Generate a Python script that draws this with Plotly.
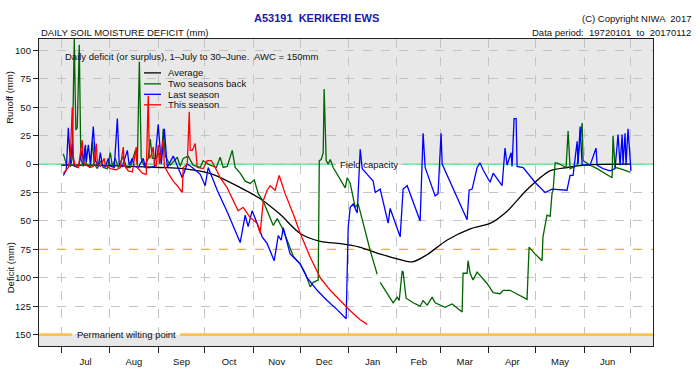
import plotly.graph_objects as go

# ---------------- data (day of season from 1 July, signed mm: + runoff, - deficit) -------------
month_labels = ["Jul", "Aug", "Sep", "Oct", "Nov", "Dec", "Jan", "Feb", "Mar", "Apr", "May", "Jun"]
month_lengths = [31, 31, 30, 31, 30, 31, 31, 28, 31, 30, 31, 30]
ytick_vals = [100, 75, 50, 25, 0, -25, -50, -75, -100, -125, -150]
series_names = ["Average", "Two seasons back", "Last season", "This season"]
series_colors = ["#000000", "#006400", "#0000ff", "#ff0000"]

avg_day = [0, 20, 44, 63, 78, 97, 115, 127, 140, 153, 166, 179, 191, 204, 217, 225, 234, 247, 262, 275, 286, 298, 313, 324, 339, 365]
avg_val = [-1, -1, -2, -3, -4, -9, -21, -30, -44, -61, -68, -70, -73, -79, -84, -86, -80, -67, -57, -52, -41, -23, -6, -3, -0.5, 0]

this_day = [1.3, 3.2, 4.5, 5.8, 7.0, 7.7, 9.0, 10.9, 13.4, 14.1, 16.0, 18.6, 20.5, 22.4, 23.1, 25.0, 27.5, 28.2,
            31.4, 35.2, 37.8, 39.7, 40.3, 42.9, 45.5, 48.0, 48.7, 51.9, 54.4, 55.7, 56.4, 57.6, 58.9, 59.6, 60.8,
            62.1, 62.8, 65.3, 66.0, 68.5, 71.7, 74.9, 77.5, 78.1, 80.7, 82.0, 82.6, 83.9, 85.8, 87.1, 90.9, 93.5,
            96.1, 98.6, 101.8, 106.3, 110.1, 113.3, 116.5, 121.0, 125.5, 127.4, 129.4, 131.9, 133.8, 137.0, 139.6,
            143.4, 148.6, 153.1, 159.5, 165.9, 172.3, 178.7, 185.1, 191.5, 196.0]
this_val = [-8, -5, -3, 8, 50, 5, -2, -3, 21, 2, -1, -3, -2, 18, 0, -2, 5, -1,
            -4, -5, -3, 15, -1, -6, -7, 15, -3, -8, -9, 60, 5, 8, 15, 0, -2,
            17, 0, 22, -2, -8, -15, -20, -25, -3, 0, 46, 12, 12, 18, -3, -4, 3,
            3, -3, -12, -21, -32, -41, -38, -47, -52, -61, -32, -23, -19, -23, -10,
            -26, -44, -61, -82, -100, -111, -120, -129, -137, -141]

last_day = [1.3, 3.2, 4.5, 5.8, 7.0, 8.3, 10.9, 13.4, 14.1, 15.4, 16.0, 17.3, 18.6, 20.5, 21.8, 23.7, 25.0, 26.3,
            28.2, 30.1, 31.4, 33.9, 35.9, 37.1, 39.1, 42.3, 43.5, 45.5, 46.7, 49.3, 52.5, 53.8, 57.0, 59.6, 62.1,
            64.0, 66.0, 67.9, 71.7, 74.3, 77.5, 80.7, 83.9, 89.0, 92.2, 94.1, 99.9, 106.9, 114.6, 117.8, 119.7,
            122.3, 125.5, 128.7, 131.9, 136.4, 139.0, 140.9, 142.2, 146.6, 153.1, 157.5, 163.9, 170.3, 176.7,
            182.5, 183.8, 185.1, 187.0, 189.6, 191.5, 192.8, 196.0, 199.8, 201.1, 204.3, 209.4, 210.7, 217.1,
            219.0, 221.6, 229.9, 231.8, 233.1, 239.5, 241.4, 243.3, 244.0, 260.0, 261.3, 263.2, 266.4, 268.3,
            270.2, 274.7, 276.7, 282.4, 284.3, 285.6, 288.2, 288.8, 290.1, 291.4, 292.0, 295.9, 303.5, 309.9,
            314.4, 324.0, 326.0, 327.9, 330.5, 331.1, 332.4, 333.7, 338.8, 342.6, 343.3, 347.1, 351.6, 354.8,
            356.7, 358.0, 359.3, 359.9, 361.2, 361.8, 363.1, 365.0]
last_val = [-10, -5, 32, 0, 18, -2, -3, 12, 0, 17, 2, 17, 0, 33, 3, -2, 10, -1,
            -2, 5, -2, -3, 40, 0, -2, 12, -1, 5, -2, -3, 5, -3, -3, -2, 35,
            0, 31, -3, 7, -1, -12, 0, -3, -9, -19, -3, -23, -44, -69, -45, -55,
            -41, -52, -64, -70, -85, -63, -67, -56, -79, -88, -100, -111, -120, -128,
            -136, -56, -38, -35, -43, 13, -4, -9, -15, -25, -22, -52, -39, -64,
            -22, -19, -50, 27, -3, -28, -26, 27, 0, -49, -23, -22, -3, 1,
            -5, -16, -8, -19, 14, -1, 10, -2, 40, 40, -2, -3, -16, -25,
            -22, -23, -10, -10, 20, 0, 33, -1, -1, 14, -1, -4, -6, -4,
            26, -1, 26, 0, 27, -1, 31, -6]

two_day = [1.3, 3.2, 5.8, 7.0, 8.3, 9.3, 10.2, 11.5, 12.5, 14.1, 15.4, 16.0, 18.6, 19.9, 21.1, 23.1, 25.0, 26.9,
           29.5, 31.4, 32.7, 34.6, 36.5, 39.7, 41.6, 44.2, 47.4, 48.7, 50.0, 51.2, 53.2, 55.7, 57.0, 58.3, 60.8,
           62.1, 64.0, 65.3, 66.6, 69.8, 74.3, 76.2, 78.1, 81.3, 84.5, 89.0, 90.9, 95.4, 99.3, 101.8, 103.7,
           106.3, 109.5, 111.4, 114.6, 117.8, 121.0, 123.6, 126.2, 129.4, 131.9, 135.8, 138.3, 141.5, 144.7,
           148.6, 153.1, 156.3, 159.5, 161.4, 164.6, 165.3, 166.5, 167.8, 168.4, 169.7, 171.0, 172.3, 174.2,
           178.7, 181.9, 183.2, 185.1, 188.3, 190.2, 193.4, 197.9, 202.4, 203.3, 204.3, 208.8, 212.6, 215.2,
           216.5, 218.4, 219.0, 220.9, 225.4, 229.9, 231.8, 234.4, 237.6, 239.5, 245.9, 250.4, 256.8, 257.4,
           260.0, 260.6, 261.9, 263.8, 266.4, 272.8, 276.7, 281.1, 283.1, 287.5, 292.0, 298.4, 299.7, 303.5,
           308.0, 308.6, 311.2, 313.2, 314.4, 315.1, 316.4, 317.6, 320.8, 323.4, 324.7, 326.0, 330.5, 333.7,
           334.3, 338.8, 343.3, 348.4, 352.9, 353.5, 354.8, 358.0, 364.4]
two_val = [9, 0, -2, 5, 110, 30, 32, 105, 5, -2, 15, 0, -3, 20, 0, -4, 3, -3,
           -4, 10, -2, 5, -3, 7, -3, -3, 12, 0, 90, 5, -2, 5, 22, 5, 5,
           12, 2, 31, 7, -1, 6, -2, 5, 7, -1, -3, 3, -1, -3, 6, -3,
           -2, 12, -3, -8, -15, -17, -14, -26, -33, -41, -54, -48, -56, -67,
           -81, -88, -96, -108, -104, -102, 3, 4, 10, 66, 3, 0, 4, -3,
           -13, -21, -12, -17, -38, -35, -52, -76, -97, None, -104, -114, -122, -117,
           -120, -94, -95, -118, -122, -125, -120, -124, -117, -122, -126, -123, -130, -96,
           -96, -85, -96, -102, -95, -105, -113, -114, -111, -111, -114, -119, -73, -79,
           -85, -64, -45, -46, -26, -23, 1, 1, -1, -3, 29, -4, -1, 36,
           3, -1, -4, -8, -12, 25, -3, -4, -7]

# ---------------- derived axis positions -------------
bounds = [0]
for m in month_lengths:
    bounds.append(bounds[-1] + m)
mids = [(bounds[i] + bounds[i + 1]) / 2 for i in range(12)]
XMIN, XMAX = -14.3, 379.1
YMIN, YMAX = -160, 110

FONT = "Liberation Sans, Arial, sans-serif"
fs = 9.5

fig = go.Figure()
all_series = [(avg_day, avg_val), (two_day, two_val), (last_day, last_val), (this_day, this_val)]
for (xd, yv), name, col in zip(all_series, series_names, series_colors):
    fig.add_trace(go.Scatter(
        x=xd, y=yv, mode="lines", name=name,
        line=dict(color=col, width=1.3, shape="spline" if name == "Average" else "linear", smoothing=0.8),
        connectgaps=False, showlegend=False, hoverinfo="skip"))

shapes = []
shapes.append(dict(type="rect", xref="paper", x0=0, x1=1, yref="y", y0=0, y1=YMAX,
                   fillcolor="#e8e8e8", line=dict(width=0), layer="below"))
shapes.append(dict(type="rect", xref="paper", x0=0, x1=1, yref="y", y0=YMIN, y1=-150,
                   fillcolor="#e8e8e8", line=dict(width=0), layer="between"))
shapes.append(dict(type="line", xref="x", yref="y", x0=XMIN, x1=175.5, y0=0, y1=0,
                   line=dict(color="#4aea8c", width=1.3), layer="between"))
shapes.append(dict(type="line", xref="x", yref="y", x0=219, x1=XMAX, y0=0, y1=0,
                   line=dict(color="#4aea8c", width=1.3), layer="between"))
shapes.append(dict(type="line", xref="x", yref="y", x0=XMIN, x1=XMAX, y0=-75, y1=-75,
                   line=dict(color="#f8ac2c", width=1.2, dash="dash"), layer="between"))
shapes.append(dict(type="line", xref="x", yref="y", x0=XMIN, x1=7, y0=-150, y1=-150,
                   line=dict(color="#ffc04d", width=2.6), layer="between"))
shapes.append(dict(type="line", xref="x", yref="y", x0=76, x1=XMAX, y0=-150, y1=-150,
                   line=dict(color="#ffc04d", width=2.6), layer="between"))

W, H, L, B = 614.0, 308.0, 39.0, 346.0
def px(x):
    return (x - L) / W
def py(y):
    return (B - y) / H

leg_rows = [72, 83, 93.5, 104]
annotations = []
for name, col, ry in zip(series_names, series_colors, leg_rows):
    shapes.append(dict(type="line", xref="paper", yref="paper", x0=px(144), x1=px(161), y0=py(ry), y1=py(ry),
                       line=dict(color=col, width=1.3)))
    annotations.append(dict(x=px(166), y=py(ry), xref="paper", yref="paper", text=name, showarrow=False,
                            xanchor="left", yanchor="middle", font=dict(size=fs, color="#111")))

annotations += [
    dict(x=px(316), y=py(17), xref="paper", yref="paper", text="<b>A53191  KERIKERI EWS</b>", showarrow=False,
         xanchor="center", yanchor="middle", font=dict(size=11, color="#1a1aa6")),
    dict(x=0, y=py(31), xref="paper", yref="paper", text="DAILY SOIL MOISTURE DEFICIT (mm)", showarrow=False,
         xanchor="left", yanchor="middle", font=dict(size=fs, color="#111")),
    dict(x=px(693), y=py(17), xref="paper", yref="paper", text="(C) Copyright NIWA  2017", showarrow=False,
         xanchor="right", yanchor="middle", font=dict(size=fs, color="#111")),
    dict(x=px(693), y=py(31), xref="paper", yref="paper", text="Data period:  19720101  to  20170112",
         showarrow=False, xanchor="right", yanchor="middle", font=dict(size=fs, color="#111")),
    dict(x=px(10), y=py(97), xref="paper", yref="paper", text="Runoff (mm)", showarrow=False, textangle=-90,
         xanchor="center", yanchor="middle", font=dict(size=fs, color="#111")),
    dict(x=px(10), y=py(268), xref="paper", yref="paper", text="Deficit (mm)", showarrow=False, textangle=-90,
         xanchor="center", yanchor="middle", font=dict(size=fs, color="#111")),
    dict(x=px(63), y=py(56), xref="paper", yref="paper",
         text="Daily deficit (or surplus), 1\u2013July to 30\u2013June.  AWC = 150mm", showarrow=False,
         xanchor="left", yanchor="middle", font=dict(size=fs, color="#111")),
    dict(x=197, y=0, xref="x", yref="y", text="Field capacity", showarrow=False,
         xanchor="center", yanchor="middle", font=dict(size=fs, color="#111")),
    dict(x=41.5, y=-150, xref="x", yref="y", text="Permanent wilting point", showarrow=False,
         xanchor="center", yanchor="middle", font=dict(size=fs, color="#111")),
]

fig.update_layout(
    width=700, height=385,
    margin=dict(l=39, r=47, t=39, b=39),
    paper_bgcolor="white", plot_bgcolor="white",
    font=dict(family=FONT, size=fs, color="#111"),
    showlegend=False,
    shapes=shapes, annotations=annotations,
)
fig.update_xaxes(
    range=[XMIN, XMAX], tickmode="array", tickvals=mids, ticktext=month_labels,
    ticks="", showgrid=False, zeroline=False, ticklabelstandoff=6,
    showline=True, mirror=True, linecolor="#222", linewidth=1.3,
    tickfont=dict(size=fs, color="#111"),
    minor=dict(tickmode="array", tickvals=bounds, ticks="outside", ticklen=6, tickcolor="#222",
               tickwidth=1, showgrid=True, gridcolor="#c4c4c4", griddash="dash", gridwidth=1),
)
fig.update_yaxes(
    range=[YMIN, YMAX], tickmode="array", tickvals=ytick_vals, ticktext=[str(abs(v)) for v in ytick_vals],
    ticks="outside", ticklen=5, tickcolor="#222", zeroline=False,
    showgrid=True, gridcolor="#c4c4c4", griddash="dash", gridwidth=1,
    showline=True, mirror=True, linecolor="#222", linewidth=1.3,
    tickfont=dict(size=fs, color="#111"),
)

fig.write_html("out.html", config={"displayModeBar": False},
               post_script="document.body.style.margin='0px';")
